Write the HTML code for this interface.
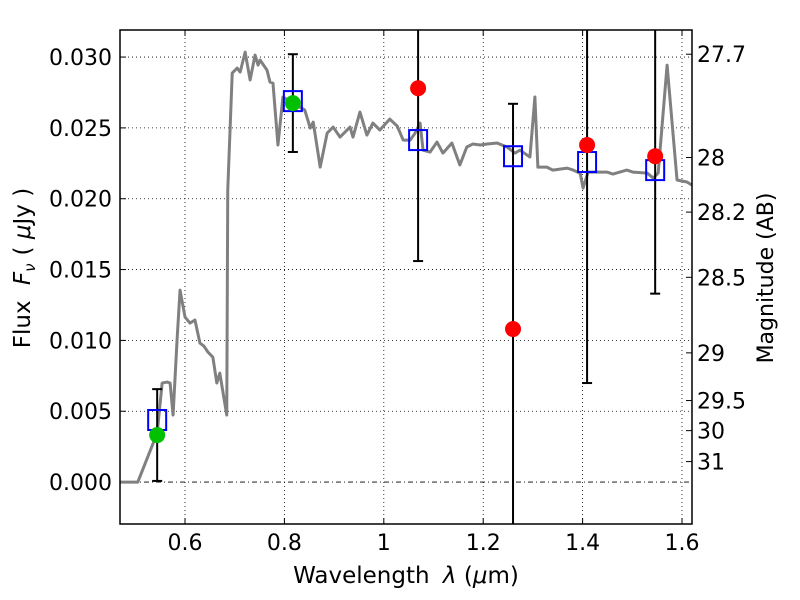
<!DOCTYPE html>
<html><head><meta charset="utf-8"><style>
html,body{margin:0;padding:0;background:#fff}
svg{display:block;font-family:"DejaVu Sans","Liberation Sans",sans-serif}
</style></head><body>
<svg id="chart" width="800" height="600" viewBox="0 0 800 600"></svg>
<script>
const specWave=[0.469,0.505,0.544,0.554,0.564,0.570,0.576,0.584,0.590,0.600,0.610,0.620,0.630,0.638,0.646,0.656,0.664,0.670,0.684,0.686,0.695,0.705,0.711,0.721,0.731,0.741,0.747,0.751,0.765,0.771,0.777,0.787,0.797,0.817,0.841,0.852,0.858,0.872,0.886,0.898,0.912,0.932,0.938,0.952,0.966,0.978,0.992,1.012,1.027,1.039,1.053,1.063,1.073,1.079,1.093,1.107,1.119,1.137,1.153,1.167,1.179,1.194,1.208,1.228,1.248,1.264,1.274,1.294,1.304,1.310,1.328,1.340,1.369,1.381,1.395,1.401,1.411,1.449,1.461,1.489,1.501,1.530,1.542,1.552,1.570,1.590,1.610,1.620];
const specFlux=[0,0,0.00346,0.00699,0.00706,0.00699,0.00473,0.01002,0.01355,0.01165,0.01122,0.01144,0.00981,0.00960,0.00918,0.00882,0.00699,0.00769,0.00473,0.02061,0.02887,0.02922,0.02894,0.03035,0.02838,0.03014,0.02943,0.02979,0.02908,0.02823,0.02816,0.02379,0.02718,0.02675,0.02626,0.02499,0.02541,0.02223,0.02463,0.02506,0.02435,0.02506,0.02435,0.02612,0.02449,0.02534,0.02485,0.02562,0.02513,0.02414,0.02414,0.02463,0.02534,0.02343,0.02329,0.02400,0.02322,0.02393,0.02238,0.02365,0.02386,0.02379,0.02386,0.02393,0.02365,0.02322,0.02343,0.02294,0.02718,0.02223,0.02223,0.02202,0.02216,0.02202,0.02181,0.02075,0.02188,0.02188,0.02174,0.02202,0.02188,0.02181,0.02146,0.02181,0.02943,0.02132,0.02118,0.02096];
const greenWave=[0.544,0.817];
const greenFlux=[0.00332,0.02675];
const greenErr=[0.00324,0.00345];
const redWave=[1.069,1.260,1.409,1.546];
const redFlux=[0.0278,0.0108,0.02379,0.0230];
const redErr=[0.0122,0.0159,0.0168,0.0097];
const modelWave=[0.544,0.817,1.069,1.260,1.409,1.546];
const modelFlux=[0.00438,0.02689,0.02414,0.0230,0.02259,0.02202];
const xTicks=[0.6,0.8,1.0,1.2,1.4,1.6];
const xTickLabels=["0.6","0.8","1","1.2","1.4","1.6"];
const yTicks=[0,0.005,0.010,0.015,0.020,0.025,0.030];
const yTickLabels=["0.000","0.005","0.010","0.015","0.020","0.025","0.030"];
const magTicks=[27.7,28,28.2,28.5,29,29.5,30,31];
const magTickLabels=["27.7","28","28.2","28.5","29","29.5","30","31"];

const L=120,R=692,T=30,B=524;
const xmin=0.4692,xmax=0.4692+(R-L)/497,ymin=-0.00296,ymax=ymin+(B-T)/14167;
const X=v=>L+(v-xmin)/(xmax-xmin)*(R-L);
const Y=v=>B-(v-ymin)/(ymax-ymin)*(B-T);
const svg=document.getElementById('chart');
const NS='http://www.w3.org/2000/svg';
function mk(tag,attrs,parent){const e=document.createElementNS(NS,tag);for(const k in attrs)e.setAttribute(k,attrs[k]);(parent||svg).appendChild(e);return e;}

xTicks.forEach((t,i)=>{
  const g=mk('line',{x1:X(t),x2:X(t),y1:T,y2:B,stroke:'#000','stroke-width':0.8,'stroke-dasharray':'1,3'});
  
  
  const tk=mk('line',{x1:X(t),x2:X(t),y1:B,y2:B-6,stroke:'#000'});
  
  
  const tk2=mk('line',{x1:X(t),x2:X(t),y1:T,y2:T+6,stroke:'#000'});
  
  
  const tx=mk('text',{x:X(t),y:550,'font-size':22,'text-anchor':'middle'});
  tx.textContent=xTickLabels[i];
  
  
});
yTicks.forEach((t,i)=>{
  const g=mk('line',{x1:L,x2:R,y1:Y(t),y2:Y(t),stroke:'#000','stroke-width':0.8,'stroke-dasharray':t===0?'5,3,1,3':'1,3'});
  
  
  const tk=mk('line',{x1:L,x2:L+6,y1:Y(t),y2:Y(t),stroke:'#000'});
  
  
  const tx=mk('text',{x:112,y:Y(t)+8,'font-size':22,'text-anchor':'end'});
  tx.textContent=yTickLabels[i];
  
  
});
magTicks.forEach((m,i)=>{
  const f=Math.pow(10,-0.4*(m-23.9));
  const tk=mk('line',{x1:R,x2:R-6,y1:Y(f),y2:Y(f),stroke:'#000'});
  
  
  const tx=mk('text',{x:697,y:Y(f)+8,'font-size':22});
  tx.textContent=magTickLabels[i];
  
  
});

const sp=mk('polyline',{points:specWave.map((w,i)=>X(w)+','+Y(specFlux[i])).join(' '),fill:'none',stroke:'#808080','stroke-width':3,'stroke-linejoin':'round'});



const clip=mk('clipPath',{id:'pc'});mk('rect',{x:L,y:T,width:R-L,height:B-T},clip);
const gp=mk('g',{'clip-path':'url(#pc)'});
function errbar(w,f,e){
  const x=X(w),y1=Y(f+e),y2=Y(f-e);
  const l=mk('line',{x1:x,x2:x,y1:y1,y2:y2,stroke:'#000','stroke-width':2},gp);
  
  
  [y1,y2].forEach(y=>{const c=mk('line',{x1:x-5,x2:x+5,y1:y,y2:y,stroke:'#000','stroke-width':2},gp);
    
    });
}
greenWave.forEach((w,i)=>errbar(w,greenFlux[i],greenErr[i]));
redWave.forEach((w,i)=>errbar(w,redFlux[i],redErr[i]));
modelWave.forEach((w,i)=>{
  const r=mk('rect',{x:X(w)-9,y:Y(modelFlux[i])-10,width:18,height:20,fill:'none',stroke:'#0000ff','stroke-width':2});
  
  
});
greenWave.forEach((w,i)=>{
  const c=mk('circle',{cx:X(w),cy:Y(greenFlux[i]),r:8,fill:'#00c000'});
  
  
});
redWave.forEach((w,i)=>{
  const c=mk('circle',{cx:X(w),cy:Y(redFlux[i]),r:8,fill:'#ff0000'});
  
  
});

const fr=mk('rect',{x:L,y:T,width:R-L,height:B-T,fill:'none',stroke:'#000','stroke-width':1.5});



const xl=mk('text',{x:406,y:583,'font-size':23,'text-anchor':'middle'});
xl.innerHTML='Wavelength <tspan dx="6" font-style="italic">λ</tspan> (<tspan font-style="italic">μ</tspan>m)';


const yl=mk('text',{x:0,y:0,'font-size':23,'text-anchor':'middle',transform:'translate(30,268) rotate(-90)'});
yl.innerHTML='Flux <tspan dx="8" font-style="italic">F</tspan><tspan font-style="italic" font-size="15" dy="5">ν</tspan><tspan dy="-5" dx="8">( </tspan><tspan font-style="italic">μ</tspan>Jy )';


const ml=mk('text',{x:0,y:0,'font-size':22,'text-anchor':'middle',transform:'translate(773,278) rotate(-90)'});
ml.textContent='Magnitude (AB)';


</script>
</body></html>
